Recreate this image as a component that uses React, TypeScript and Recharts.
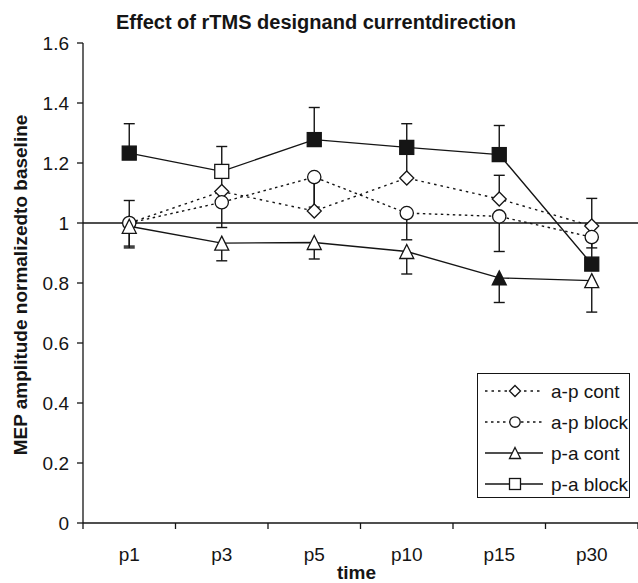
import React from 'react';
import { LineChart, Line, XAxis, YAxis, ErrorBar, ReferenceLine } from 'recharts';

const times = ['p1', 'p3', 'p5', 'p10', 'p15', 'p30'];

// a-p cont (diamonds, dotted) - error bars go up
const apCont = [1.0, 1.105, 1.04, 1.15, 1.08, 0.99];
const apContErr = [0.075, 0.06, 0.1, 0.09, 0.079, 0.092];
// a-p block (circles, dotted) - error bars go down
const apBlock = [1.0, 1.069, 1.153, 1.033, 1.022, 0.953];
const apBlockErr = [0.077, 0.084, 0.1, 0.089, 0.117, 0.036];
// p-a cont (triangles, solid) - error bars go down
const paCont = [0.989, 0.933, 0.935, 0.905, 0.817, 0.808];
const paContErr = [0.072, 0.059, 0.055, 0.075, 0.082, 0.105];
const paContFilled = [false, false, false, false, true, false];
// p-a block (squares, solid) - error bars go up
const paBlock = [1.233, 1.172, 1.278, 1.252, 1.228, 0.863];
const paBlockErr = [0.098, 0.083, 0.107, 0.079, 0.097, 0.09];
const paBlockFilled = [true, false, true, true, true, true];

const noneFilled = [false, false, false, false, false, false];

const yTicks = [0, 0.2, 0.4, 0.6, 0.8, 1, 1.2, 1.4, 1.6];

const INK = '#151515';
const FONT = '"Liberation Sans", Arial, Helvetica, sans-serif';

type Shape = 'diamond' | 'circle' | 'triangle' | 'square';

const series = [
  { key: 'apCont', name: 'a-p cont', values: apCont, err: apContErr, up: true, filled: noneFilled, shape: 'diamond' as Shape, dash: '2.5 4' },
  { key: 'apBlock', name: 'a-p block', values: apBlock, err: apBlockErr, up: false, filled: noneFilled, shape: 'circle' as Shape, dash: '2.5 3.5' },
  { key: 'paCont', name: 'p-a cont', values: paCont, err: paContErr, up: false, filled: paContFilled, shape: 'triangle' as Shape, dash: undefined },
  { key: 'paBlock', name: 'p-a block', values: paBlock, err: paBlockErr, up: true, filled: paBlockFilled, shape: 'square' as Shape, dash: undefined },
];

const data = times.map((time, i) => {
  const row: Record<string, any> = { time };
  series.forEach((s) => {
    const v = s.values[i];
    const e = s.err[i];
    row[s.key] = v;
    row[s.key + 'Err'] = s.up ? [0, e] : [e, 0];
    row[s.key + 'Cap'] = s.up ? v + e : v - e;
    row[s.key + 'Fill'] = s.filled[i];
  });
  return row;
});

function Marker({ shape, cx, cy, filled, size }: { shape: Shape; cx: number; cy: number; filled: boolean; size: number }) {
  const fill = filled ? INK : '#fff';
  const h = size / 2;
  const common = { fill, stroke: INK, strokeWidth: 1.3 };
  if (shape === 'diamond') {
    return <polygon points={`${cx},${cy - h} ${cx + h},${cy} ${cx},${cy + h} ${cx - h},${cy}`} {...common} />;
  }
  if (shape === 'circle') {
    return <circle cx={cx} cy={cy} r={h * 0.95} {...common} />;
  }
  if (shape === 'triangle') {
    return <polygon points={`${cx},${cy - h} ${cx + h},${cy + h} ${cx - h},${cy + h}`} {...common} />;
  }
  return <rect x={cx - h} y={cy - h} width={size} height={size} {...common} />;
}

// category label with Excel-style tick marks on the band edges
function TimeTick(props: any) {
  const { x, y, payload, index } = props;
  const off = payload.offset || 0;
  return (
    <g>
      <line x1={x - off} x2={x - off} y1={y} y2={y + 6} stroke={INK} strokeWidth={1.3} />
      {index === times.length - 1 && <line x1={x + off} x2={x + off} y1={y} y2={y + 6} stroke={INK} strokeWidth={1.3} />}
      <text x={x} y={y + 25} dy="0.71em" textAnchor="middle" fontSize={19} fill={INK} fontFamily={FONT}>
        {payload.value}
      </text>
    </g>
  );
}

function LegendBox() {
  return (
    <div
      style={{
        position: 'absolute',
        left: 477,
        top: 373,
        width: 151,
        height: 123,
        border: `1.5px solid ${INK}`,
        background: '#fff',
      }}
    >
      <svg width={151} height={123} style={{ position: 'absolute', left: 0, top: 0 }}>
        {series.map((s, i) => {
          const y = 17 + i * 31;
          return (
            <g key={s.key}>
              <line x1={7} x2={65} y1={y} y2={y} stroke={INK} strokeWidth={1.3} strokeDasharray={s.dash} />
              <Marker shape={s.shape} cx={37} cy={y} filled={false} size={11} />
              <text x={73} y={y} dy="0.35em" fontSize={19} fill={INK} fontFamily={FONT}>
                {s.name}
              </text>
            </g>
          );
        })}
      </svg>
    </div>
  );
}

export default function App() {
  return (
    <div style={{ position: 'absolute', left: 0, top: 0, width: 638, height: 583, background: '#fff', fontFamily: FONT }}>
      <div
        style={{
          position: 'absolute',
          left: 0,
          top: 12,
          width: 632,
          textAlign: 'center',
          fontWeight: 'bold',
          fontSize: 20,
          lineHeight: '20px',
          color: INK,
        }}
      >
        Effect of rTMS designand currentdirection
      </div>
      <LineChart width={638} height={583} data={data} margin={{ top: 43, right: 0, bottom: 0, left: 0 }}>
        <XAxis
          dataKey="time"
          scale="band"
          interval={0}
          height={60}
          axisLine={{ stroke: INK, strokeWidth: 1.3 }}
          tickLine={false}
          tickSize={0}
          tickMargin={0}
          tick={<TimeTick />}
          label={({ viewBox }: any) => (
            <text
              x={viewBox.x + viewBox.width / 2 - 4}
              y={viewBox.y + viewBox.height - 4}
              textAnchor="middle"
              fontWeight="bold"
              fontSize={19}
              fill={INK}
              fontFamily={FONT}
            >
              time
            </text>
          )}
        />
        <YAxis
          type="number"
          domain={[0, 1.6]}
          ticks={yTicks}
          width={83}
          tickSize={6}
          tickMargin={8}
          axisLine={{ stroke: INK, strokeWidth: 1.3 }}
          tickLine={{ stroke: INK, strokeWidth: 1.3 }}
          tick={{ fontSize: 19, fill: INK, fontFamily: FONT }}
          label={({ viewBox }: any) => {
            const cy = viewBox.y + viewBox.height / 2 + 2;
            return (
              <text
                x={20}
                y={cy}
                transform={`rotate(-90, 20, ${cy})`}
                textAnchor="middle"
                dominantBaseline="central"
                fontWeight="bold"
                fontSize={19}
                fill={INK}
                fontFamily={FONT}
              >
                MEP amplitude normalizedto baseline
              </text>
            );
          }}
        />
        <ReferenceLine y={1} stroke={INK} strokeWidth={1.3} />
        {series.map((s) => (
          <Line
            key={s.key + '-bar'}
            dataKey={s.key}
            stroke="none"
            dot={false}
            activeDot={false}
            legendType="none"
            isAnimationActive={false}
          >
            <ErrorBar dataKey={s.key + 'Err'} width={0} stroke={INK} strokeWidth={1.4} direction="y" />
          </Line>
        ))}
        {series.map((s) => (
          <Line
            key={s.key + '-cap'}
            dataKey={s.key + 'Cap'}
            stroke="none"
            activeDot={false}
            legendType="none"
            isAnimationActive={false}
            dot={(p: any) => (
              <line
                key={`${s.key}-cap-${p.index}`}
                x1={p.cx - 5.5}
                x2={p.cx + 5.5}
                y1={p.cy}
                y2={p.cy}
                stroke={INK}
                strokeWidth={1.4}
              />
            )}
          />
        ))}
        {series.map((s) => (
          <Line
            key={s.key}
            dataKey={s.key}
            name={s.name}
            stroke={INK}
            strokeWidth={1.4}
            strokeDasharray={s.dash}
            activeDot={false}
            isAnimationActive={false}
            dot={(p: any) => (
              <g key={`${s.key}-dot-${p.index}`}>
                <Marker shape={s.shape} cx={p.cx} cy={p.cy} filled={!!p.payload[s.key + 'Fill']} size={14} />
              </g>
            )}
          />
        ))}
      </LineChart>
      <LegendBox />
    </div>
  );
}
